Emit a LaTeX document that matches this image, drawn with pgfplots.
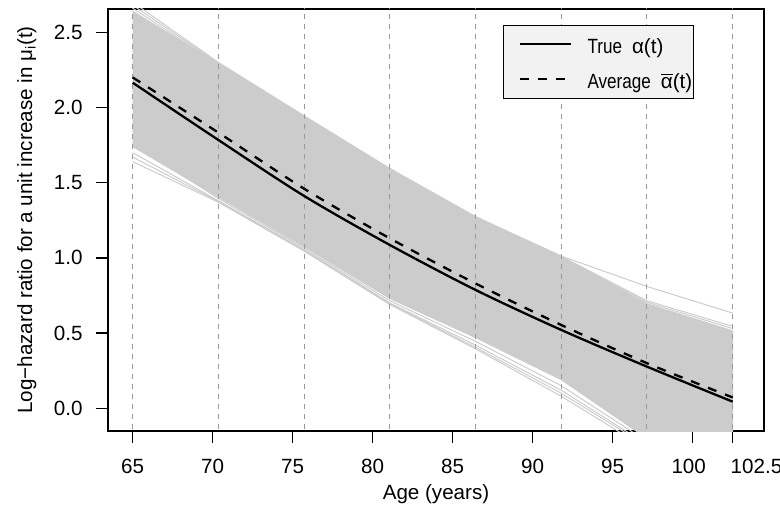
\documentclass[border=0pt]{standalone}
\usepackage{fontspec}
\setmainfont{Liberation Sans}
\usepackage{graphicx}
\usepackage{pgfplots}
\pgfplotsset{compat=1.18}
\definecolor{band}{HTML}{CCCCCC}
\definecolor{knotgray}{HTML}{999999}
\definecolor{legfill}{HTML}{F2F2F2}
\newcommand{\narrow}[1]{\scalebox{0.83}[1]{#1}}

\begin{document}
\begin{tikzpicture}[font=\fontsize{10.3pt}{12pt}\selectfont]
\begin{axis}[
  width=328pt, height=211pt, scale only axis,
  xmin=63.456, xmax=104.456, ymin=-0.151, ymax=2.655,
  xtick={65,70,75,80,85,90,95,100,102.5},
  xticklabels={65,70,75,80,85,90,95,\makebox[0pt]{100\hspace{4pt}},\makebox[0pt][l]{\hspace{-1pt}102.5}},
  ytick={0,0.5,1,1.5,2,2.5},
  yticklabels={0.0,0.5,1.0,1.5,2.0,2.5},
  tick pos=left, tick align=outside, major tick length=6pt,
  every tick/.append style={black, line width=0.7pt},
  axis line style={line width=0.7pt},
  xticklabel style={anchor=base, inner sep=0pt, yshift=-15pt},
  yticklabel style={anchor=east, inner sep=0pt, xshift=-6.5pt},
  xlabel={Age (years)},
  ylabel={Log−hazard ratio for a unit increase in μ\textsubscript{i}(t)},
  xlabel style={at={(axis description cs:0.5,-0.1611)}, anchor=base, inner sep=0pt},
  ylabel style={at={(axis description cs:-0.11585,0.5)}, anchor=base, inner sep=0pt},
  legend style={at={(0.6017,0.9628)}, anchor=north west, draw=black,
    line width=0.6pt, fill=legfill, inner xsep=0.6pt, inner ysep=3pt,
    row sep=4.5pt, font=\fontsize{10.3pt}{12pt}\selectfont,
    nodes={inner sep=0pt, text height=11pt, text depth=2pt}},
  legend cell align=left,
  legend image code/.code={
    \path[draw=none, fill=none] (0pt,-0.1pt) rectangle (41.5pt,1.7pt);
    \draw[#1] (7.5pt,0pt) -- (33pt,0pt);},
]
% band of the simulated curves
\addplot[fill=band, draw=band, line width=0.5pt, forget plot] coordinates {
  (65,2.64) (70.357,2.29) (75.714,1.93) (81.071,1.58) (86.429,1.265)
  (91.786,1.005) (97.143,0.695) (102.5,0.515)
  (102.5,-0.45) (97.143,-0.20) (91.786,0.19) (86.429,0.47) (81.071,0.73)
  (75.714,1.075) (70.357,1.405) (65,1.74)};
% single curves at the edges
\addplot[band, line width=0.5pt, forget plot] coordinates {
  (65,2.70) (70.357,2.300) (75.714,1.945) (81.071,1.595) (86.429,1.275) (91.786,1.012) (97.143,0.810) (102.5,0.633)};
\addplot[band, line width=0.5pt, forget plot] coordinates {
  (65,2.68) (70.357,2.295) (75.714,1.940) (81.071,1.590) (86.429,1.272) (91.786,1.010) (97.143,0.715) (102.5,0.545)};
\addplot[band, line width=0.5pt, forget plot] coordinates {
  (65,2.66) (70.357,2.290) (75.714,1.935) (81.071,1.585) (86.429,1.270) (91.786,1.008) (97.143,0.705) (102.5,0.530)};
\addplot[band, line width=0.5pt, forget plot] coordinates {
  (65,1.64) (70.357,1.370) (75.714,1.045) (81.071,0.690) (86.429,0.395) (91.786,0.080) (97.143,-0.27) (102.5,-0.55)};
\addplot[band, line width=0.5pt, forget plot] coordinates {
  (65,1.70) (70.357,1.380) (75.714,1.055) (81.071,0.700) (86.429,0.420) (91.786,0.120) (97.143,-0.24) (102.5,-0.50)};
\addplot[band, line width=0.5pt, forget plot] coordinates {
  (65,1.67) (70.357,1.375) (75.714,1.050) (81.071,0.695) (86.429,0.405) (91.786,0.100) (97.143,-0.25) (102.5,-0.52)};
\addplot[band, line width=0.5pt, forget plot] coordinates {
  (65,1.76) (70.357,1.395) (75.714,1.065) (81.071,0.715) (86.429,0.445) (91.786,0.150) (97.143,-0.22) (102.5,-0.48)};
% knots
\addplot[knotgray, line width=0.5pt, dash pattern=on 2.5pt off 2.5pt,
  unbounded coords=jump, forget plot] coordinates {
  (65,-1) (65,3) (65,nan)
  (70.357,-1) (70.357,3) (70.357,nan)
  (75.714,-1) (75.714,3) (75.714,nan)
  (81.071,-1) (81.071,3) (81.071,nan)
  (86.429,-1) (86.429,3) (86.429,nan)
  (91.786,-1) (91.786,3) (91.786,nan)
  (97.143,-1) (97.143,3) (97.143,nan)
  (102.5,-1) (102.5,3)};
% true and average
\addplot[black, line width=1.15pt, smooth] coordinates {
  (65,2.165) (70.357,1.784) (75.714,1.412) (81.071,1.086) (86.429,0.787)
  (91.786,0.521) (97.143,0.277) (102.5,0.044)};
\addlegendentry{\narrow{True}\hspace{5pt}α(t)}
\addplot[black, line width=1.15pt, smooth, dash pattern=on 4.5pt off 4.6pt] coordinates {
  (65,2.200) (70.357,1.833) (75.714,1.460) (81.071,1.130) (86.429,0.830)
  (91.786,0.554) (97.143,0.300) (102.5,0.072)};
\addlegendentry{\narrow{Average}\hspace{5pt}\ensuremath{\overline{\mbox{α}}}(t)}
\coordinate (ll) at (rel axis cs:0,0);
\coordinate (ur) at (rel axis cs:1,1);
\end{axis}
\pgfresetboundingbox
\path ([shift={(-54pt,-37.5pt)}]ll) rectangle ([shift={(8pt,4.5pt)}]ur);
\end{tikzpicture}
\end{document}
